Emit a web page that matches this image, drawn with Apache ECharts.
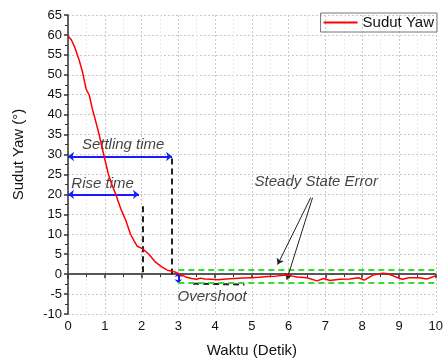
<!DOCTYPE html>
<html>
<head>
<meta charset="utf-8">
<script src="https://cdn.jsdelivr.net/npm/echarts@6/dist/echarts.min.js"></script>
<style>
  html, body { margin: 0; padding: 0; background: #fff; }
  #chart { width: 446px; height: 363px; }
</style>
</head>
<body>
<div id="chart"></div>
<script>
// yaw response (time in seconds, angle in degrees)
const waktu = [0, 0.09, 0.18, 0.3, 0.4, 0.49, 0.58, 0.66, 0.72, 0.85, 0.97, 1.1, 1.2, 1.3, 1.43, 1.5, 1.57, 1.7, 1.8, 1.88,
  2.02, 2.2, 2.38, 2.55, 2.7, 2.85, 2.95, 3.05, 3.2, 3.36, 3.5, 3.6, 3.72, 3.9, 4.08, 4.3, 4.53, 4.75, 4.97, 5.2,
  5.42, 5.65, 5.87, 5.96, 6.1, 6.23, 6.5, 6.77, 6.95, 7.12, 7.39, 7.66, 7.89, 8.06, 8.29, 8.56, 8.69, 8.91, 9.09, 9.27,
  9.54, 9.77, 9.95, 10];
const sudutYaw = [59.7, 58.8, 57, 53.8, 50.5, 46.5, 44.8, 41.5, 39.5, 34.9, 30, 25, 22.3, 20, 16.5, 15, 13.5, 10, 8.3, 7,
  6.4, 5, 3, 1.8, 1.0, 0.7, 0.4, -0.1, -0.7, -1.1, -1.3, -1.0, -1.2, -1.3, -1.4, -1.2, -1.1, -1.0, -0.9, -0.8,
  -0.6, -0.5, -0.3, -0.2, -0.5, -0.7, -0.9, -1.7, -1.1, -1.6, -1.3, -1.2, -0.9, -1.5, -0.25, 0.25, 0.1, -0.7, -1.3, -0.9,
  -0.9, -1.2, -0.6, -0.4];

// annotation lines, in data coordinates
const blueArrows = [
  [[0, 29.5], [2.83, 29.5]],   // settling time
  [[0, 20], [1.93, 20]]        // rise time
];
const overshootArrow = [[3.0, 0.3], [3.0, -2.3]];
const blackDashes = [
  [[2.83, 29], [2.83, 0]],
  [[2.02, 17], [2.02, 0]],
  [[3.4, -2.4], [4.8, -2.6]]
];
const greenBand = [
  [[3.0, 1.2], [10, 1.2]],
  [[3.0, -2.1], [10, -2.1]]
];
const pointerArrows = [
  [[6.6, 19.2], [5.7, 2.4]],
  [[6.65, 19.2], [5.95, -1.4]]
];
const notes = [
  { name: 'Settling time', value: [1.5, 32.4] },
  { name: 'Rise time', value: [0.94, 22.7] },
  { name: 'Steady State Error', value: [6.75, 23.2] },
  { name: 'Overshoot', value: [3.92, -5.8] }
];

const font = 'Liberation Sans, Arial, sans-serif';
const toMark = arr => arr.map(p => [{ coord: p[0] }, { coord: p[1] }]);

const chart = echarts.init(document.getElementById('chart'));

chart.setOption({
  animation: false,
  textStyle: { fontFamily: font },
  grid: { left: 68, right: 6, top: 15, bottom: 48 },
  legend: {
    data: ['Sudut Yaw'],
    top: 13,
    right: 9,
    padding: [2, 3, 2, 3],
    borderColor: '#777',
    borderWidth: 1,
    borderRadius: 0,
    itemWidth: 34,
    itemHeight: 2,
    icon: 'rect',
    textStyle: { fontSize: 15, color: '#111', fontFamily: font }
  },
  xAxis: {
    type: 'value',
    min: 0,
    max: 10,
    interval: 1,
    name: 'Waktu (Detik)',
    nameLocation: 'middle',
    nameGap: 29,
    nameTextStyle: { fontSize: 15, color: '#111' },
    axisLine: { lineStyle: { color: '#333', width: 1.5 } },
    axisTick: { length: 4, lineStyle: { color: '#333', width: 1.5 } },
    minorTick: { show: true, splitNumber: 2, length: 3, lineStyle: { color: '#333' } },
    axisLabel: { fontSize: 13, color: '#111', margin: 6 },
    splitLine: { lineStyle: { color: '#c8c8c8', type: [2, 2] } },
    minorSplitLine: { show: true, lineStyle: { color: '#ececec', type: [2, 2] } }
  },
  yAxis: {
    type: 'value',
    min: -10,
    max: 65,
    interval: 5,
    name: 'Sudut Yaw (°)',
    nameLocation: 'middle',
    nameGap: 42,
    nameTextStyle: { fontSize: 15, color: '#111', padding: [0, 0, 0, 20] },
    axisLine: { show: true, lineStyle: { color: '#333', width: 1.5 } },
    axisTick: { show: true, length: 4, lineStyle: { color: '#333', width: 1.5 } },
    minorTick: { show: true, splitNumber: 2, length: 3, lineStyle: { color: '#333' } },
    axisLabel: { fontSize: 13, color: '#111', margin: 6 },
    splitLine: { lineStyle: { color: '#c8c8c8', type: [2, 2] } }
  },
  series: [
    {
      name: 'Sudut Yaw',
      type: 'line',
      data: waktu.map((t, i) => [t, sudutYaw[i]]),
      showSymbol: false,
      symbol: 'none',
      color: '#ff0000',
      lineStyle: { color: '#ff0000', width: 1.5 },
      z: 5,
      markLine: {
        silent: true,
        symbol: 'none',
        label: { show: false },
        lineStyle: { color: '#555', width: 1.5, type: 'solid' },
        data: [{ yAxis: 0 }]
      }
    },
    {
      name: 'blue',
      type: 'line',
      data: [],
      z: 6,
      markLine: {
        silent: true,
        symbol: ['arrow', 'arrow'],
        symbolSize: [7, 6],
        label: { show: false },
        lineStyle: { color: '#1a1aff', width: 2, type: 'solid' },
        data: toMark(blueArrows).concat([[
          { coord: overshootArrow[0], symbolSize: [6, 4] },
          { coord: overshootArrow[1], symbolSize: [6, 4] }
        ]])
      }
    },
    {
      name: 'black',
      type: 'line',
      data: [],
      markLine: {
        silent: true,
        symbol: 'none',
        label: { show: false },
        lineStyle: { color: '#222', width: 2, type: [6, 4] },
        data: toMark(blackDashes)
      }
    },
    {
      name: 'green',
      type: 'line',
      data: [],
      markLine: {
        silent: true,
        symbol: 'none',
        label: { show: false },
        lineStyle: { color: '#33dd33', width: 2, type: [6, 4] },
        data: toMark(greenBand)
      }
    },
    {
      name: 'pointer',
      type: 'line',
      data: [],
      markLine: {
        silent: true,
        symbol: ['none', 'arrow'],
        symbolSize: 6,
        label: { show: false },
        lineStyle: { color: '#222', width: 1, type: 'solid' },
        data: toMark(pointerArrows)
      }
    },
    {
      name: 'notes',
      type: 'scatter',
      symbolSize: 1,
      itemStyle: { color: 'transparent' },
      silent: true,
      label: {
        show: true,
        position: 'inside',
        formatter: '{b}',
        fontSize: 15,
        fontStyle: 'italic',
        color: '#111',
        fontFamily: font
      },
      data: notes
    }
  ]
});
</script>
</body>
</html>
